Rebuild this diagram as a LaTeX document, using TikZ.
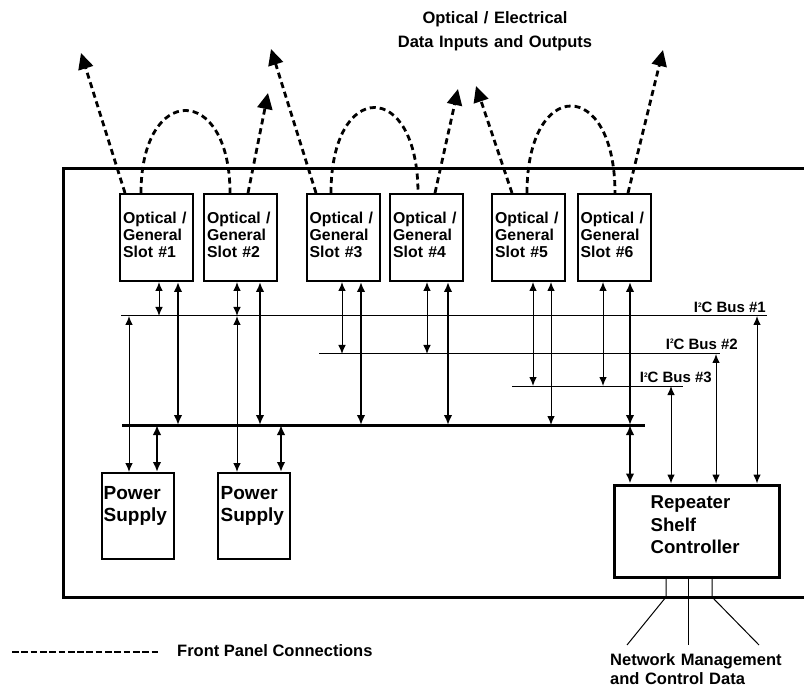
\documentclass[tikz,border=0pt]{standalone}
\usepackage{fontspec}
\setmainfont{Liberation Sans}
\usetikzlibrary{arrows.meta}
\newcommand\sqtwo{\raisebox{5.2pt}{\fontsize{6.5}{6.5}\selectfont 2}}
\begin{document}
\begin{tikzpicture}[x=1pt,y=-1pt,
  panel/.style={line width=3pt},
  slotbox/.style={draw,line width=2pt,minimum width=73pt,minimum height=87pt,inner sep=0pt},
  psbox/.style={draw,line width=2pt,minimum width=72pt,minimum height=86pt,inner sep=0pt},
  ctrlbox/.style={draw,line width=3pt,minimum width=165pt,minimum height=92pt,inner sep=0pt},
  slottext/.style={font=\bfseries\fontsize{15.8}{17}\selectfont,text width=70pt,align=left,inner sep=0pt,anchor=base west},
  pstext/.style={font=\bfseries\fontsize{19}{22.4}\selectfont,text width=70pt,align=left,inner sep=0pt,anchor=base west},
  ctrltext/.style={font=\bfseries\fontsize{18.6}{22.5}\selectfont,text width=125pt,align=left,inner sep=0pt,anchor=base west},
  labeltext/.style={font=\bfseries\fontsize{16.5}{20}\selectfont,inner sep=0pt},
  bustext/.style={font=\bfseries\fontsize{15}{17}\selectfont,inner sep=0pt,anchor=base east},
  fpline/.style={line width=2.8pt,dash pattern=on 6pt off 4pt},
  fparrow/.style={fpline,-{Triangle[length=16pt,width=15pt]}},
  bus/.style={line width=1pt},
  mainbus/.style={line width=3pt},
  thinarr/.style={line width=1pt,{Latex[length=9pt,width=7.5pt]}-{Latex[length=9pt,width=7.5pt]}},
  thickarr/.style={line width=2pt,{Latex[length=10pt,width=8.5pt]}-{Latex[length=10pt,width=8.5pt]}},
  netline/.style={line width=1pt}
]
\useasboundingbox (0,0) rectangle (804,687);

% shelf outline, open to the right
\draw[panel] (804,169) -- (63,169) -- (63,597) -- (804,597);

% title
\node[labeltext,text width=220pt,align=center,anchor=base] (title) at (495,24)
  {Optical / Electrical\\[3.7pt]Data Inputs and Outputs};

% slot cards
\node[slotbox] (s1) at (156.5,237.5) {};
\node[slotbox] (s2) at (240.5,237.5) {};
\node[slotbox] (s3) at (343,237.5) {};
\node[slotbox] (s4) at (426.5,237.5) {};
\node[slotbox] (s5) at (528.5,237.5) {};
\node[slotbox] (s6) at (614,237.5) {};
\foreach \i in {1,...,6}
  \node[slottext] (s\i t) at ([shift={(4,30.5)}]s\i.north west) {Optical /\\General\\Slot \#\i};

% power supplies
\node[psbox] (p1) at (138,516) {};
\node[psbox] (p2) at (253.5,516) {};
\node[pstext] (p1t) at ([shift={(2.5,27)}]p1.north west) {Power\\Supply};
\node[pstext] (p2t) at ([shift={(4,27)}]p2.north west) {Power\\Supply};

% shelf controller
\node[ctrlbox] (rsc) at (696.5,531) {};
\node[ctrltext] (rsct) at ([shift={(38,25)}]rsc.north west) {Repeater\\Shelf\\Controller};

% I2C buses and the main backplane bus
\coordinate (b1w) at (121,316); \coordinate (b1e) at (767,316);
\coordinate (b2w) at (319,354); \coordinate (b2e) at (720,354);
\coordinate (b3w) at (512,386); \coordinate (b3e) at (683,386);
\coordinate (mbw) at (122,425); \coordinate (mbe) at (645,425);
\draw[bus] (b1w) -- (b1e);
\draw[bus] (b2w) -- (b2e);
\draw[bus] (b3w) -- (b3e);
\draw[mainbus] (mbw) -- (mbe);
\node[bustext] (bl1) at (766,312.3) {I\sqtwo C Bus \#1};
\node[bustext] (bl2) at (738,349) {I\sqtwo C Bus \#2};
\node[bustext] (bl3) at (712,382.3) {I\sqtwo C Bus \#3};

% vertical lanes
\coordinate (la) at (159,0);  \coordinate (lb) at (178,0);
\coordinate (lc) at (129,0);  \coordinate (ld) at (157,0);
\coordinate (le) at (237,0);  \coordinate (lf) at (260,0);
\coordinate (lg) at (281,0);  \coordinate (lh) at (342,0);
\coordinate (li) at (361,0);  \coordinate (lj) at (427,0);
\coordinate (lk) at (448,0);  \coordinate (ll) at (533,0);
\coordinate (lm) at (551,0);  \coordinate (ln) at (603,0);
\coordinate (lo) at (630,0);  \coordinate (lp) at (671,0);
\coordinate (lq) at (716,0);  \coordinate (lr) at (757,0);

\draw[thinarr]  (la |- s1.south) -- (la |- b1w);
\draw[thickarr] (lb |- s1.south) -- (lb |- mbw);
\draw[thinarr]  (lc |- b1w) -- (lc |- p1.north);
\draw[thickarr] (ld |- mbw) -- (ld |- p1.north);
\draw[thinarr]  (le |- s2.south) -- (le |- b1w);
\draw[thinarr]  (le |- b1w) -- (le |- p2.north);
\draw[thickarr] (lf |- s2.south) -- (lf |- mbw);
\draw[thickarr] (lg |- mbw) -- (lg |- p2.north);
\draw[thinarr]  (lh |- s3.south) -- (lh |- b2w);
\draw[thickarr] (li |- s3.south) -- (li |- mbw);
\draw[thinarr]  (lj |- s4.south) -- (lj |- b2w);
\draw[thickarr] (lk |- s4.south) -- (lk |- mbw);
\draw[thinarr]  (ll |- s5.south) -- (ll |- b3w);
\draw[thinarr]  (lm |- s5.south) -- (lm |- mbw);
\draw[thinarr]  (ln |- s6.south) -- (ln |- b3w);
\draw[thickarr] (lo |- s6.south) -- (lo |- mbw);
\draw[thickarr] (lo |- mbw) -- (lo |- rsc.north);
\draw[thinarr]  (lp |- b3w) -- (lp |- rsc.north);
\draw[thinarr]  (lq |- b2w) -- (lq |- rsc.north);
\draw[thinarr]  (lr |- b1w) -- (lr |- rsc.north);

% front panel connections
\coordinate (t1) at (81,53);   \coordinate (t2) at (268,93);
\coordinate (t3) at (271,49);  \coordinate (t4) at (458,89);
\coordinate (t5) at (476,86);  \coordinate (t6) at (663,50);
\coordinate (f1) at (125,0);  \coordinate (f2) at (248,0);
\coordinate (f3) at (316,0);  \coordinate (f4) at (435,0);
\coordinate (f5) at (512,0);  \coordinate (f6) at (628,0);
\draw[fparrow] (f1 |- s1.north) -- (t1);
\draw[fparrow] (f2 |- s2.north) -- (t2);
\draw[fparrow] (f3 |- s3.north) -- (t3);
\draw[fparrow] (f4 |- s4.north) -- (t4);
\draw[fparrow] (f5 |- s5.north) -- (t5);
\draw[fparrow] (f6 |- s6.north) -- (t6);
\coordinate (a1) at (141,0); \coordinate (a2) at (230,0);
\coordinate (a3) at (331,0); \coordinate (a4) at (418,0);
\coordinate (a5) at (527,0); \coordinate (a6) at (615,0);
\draw[fpline] (a1 |- s1.north) .. controls (141,83) and (230,83) .. (a2 |- s2.north);
\draw[fpline] (a3 |- s3.north) .. controls (331,79) and (418,79) .. (a4 |- s4.north);
\draw[fpline] (a5 |- s5.north) .. controls (527,77) and (615,77) .. (a6 |- s6.north);

% network management and control data
\coordinate (n1) at (666,597); \coordinate (n3) at (712,597);
\coordinate (m1) at (627,645); \coordinate (m2) at (688,645); \coordinate (m3) at (759,645);
\draw[netline] (n1 |- rsc.south) -- (n1) -- (m1);
\draw[netline] (m2 |- rsc.south) -- (m2);
\draw[netline] (n3 |- rsc.south) -- (n3) -- (m3);
\node[labeltext,text width=180pt,align=left,anchor=base west] (nmc) at (610,665.5)
  {Network Management\\[-1.5pt]and Control Data};

% legend
\coordinate (lg1) at (12,652); \coordinate (lg2) at (160,652);
\draw[line width=2.8pt,dash pattern=on 6.7pt off 2.6pt] (lg1) -- (lg2);
\node[labeltext,anchor=base west] (leg) at (177,656.7) {Front Panel Connections};
\end{tikzpicture}
\end{document}
